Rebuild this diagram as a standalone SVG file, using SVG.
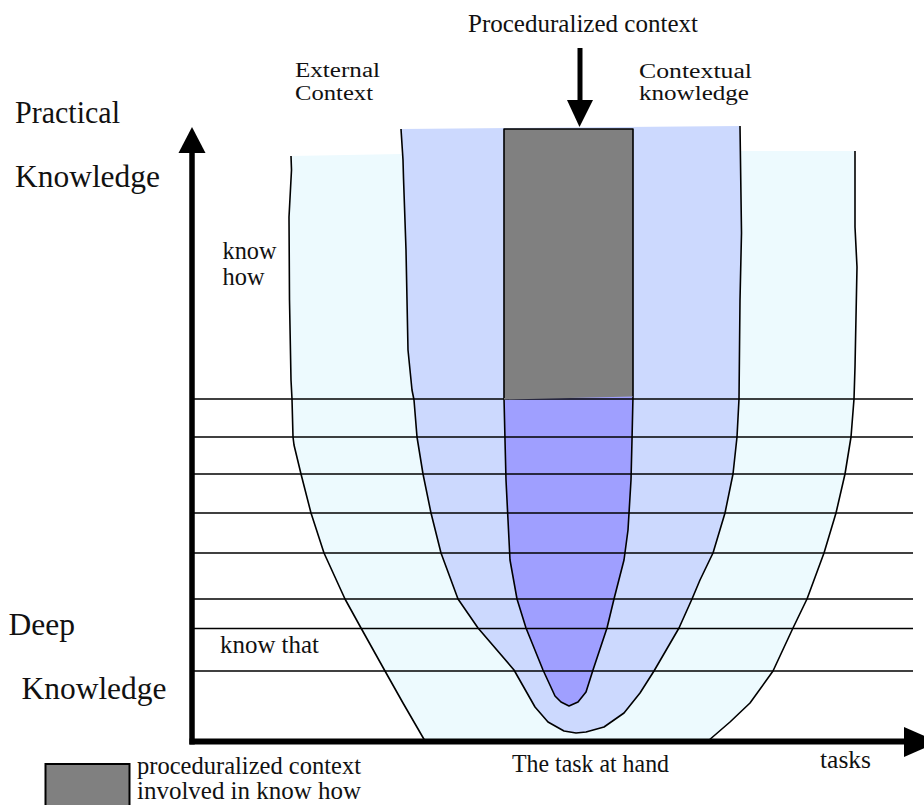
<svg xmlns="http://www.w3.org/2000/svg" width="924" height="805" viewBox="0 0 924 805">
<style>
text{font-family:"Liberation Serif","DejaVu Serif","Times New Roman",serif;fill:#111;}
.big{font-size:31px;}
.med{font-size:25px;}
.sm{font-size:20.5px;}
.edge{fill:none;stroke:#000;stroke-width:1.6;stroke-linejoin:round;}
.hl{stroke:#000;stroke-width:1.6;}
</style>
<rect x="0" y="0" width="924" height="805" fill="#fff"/>
<g id="external-context">
<polygon fill="#EDFAFE" points="291,156 402,154 740,151 855,151 855,227 857,267 855,367 854,399 851,437 845,474 836,513 824,553 807,599 793,628 773,671 750,703 730,722 708,741 425,741 403,703 385,671 361,628 345,599 324,553 311,513 301,474 294,445 293,437 292,399 291,380 289.5,300 289,217 291.5,170"/>
<polyline class="edge" points="291,156 291.5,170 289,217 289.5,300 291,380 292,399 293,437 294,445 301,474 311,513 324,553 345,599 361,628 385,671 403,703 425,741"/>
<polyline class="edge" points="855,151 855,227 857,267 855,367 854,399 851,437 845,474 836,513 824,553 807,599 793,628 773,671 750,703 730,722 708,741"/>
</g>
<g id="contextual-knowledge">
<polygon fill="#CCD9FE" points="401,129 740,126 741.5,233 740,300 739,399 737,437 733,474 725,513 713,553 700,580 692,599 679,628 654,671 640,693 624,713 604,727 586,732 576,733 564,731 548,722 535,707 514,670 478,628 458,599 441,553 431,513 423,474 417,437 414,400 412,390 408,350 406,250 403.5,178 403,160"/>
<polyline class="edge" points="401,129 403,160 403.5,178 406,250 408,350 412,390 414,400 417,437 423,474 431,513 441,553 458,599 478,628 514,670 535,707 548,722 564,731 576,733 586,732 604,727 624,713 640,693 654,671 679,628 692,599 700,580 713,553 725,513 733,474 737,437 739,399 740,300 741.5,233 740,126"/>
</g>
<g id="know-that-core">
<polygon fill="#9F9FFF" points="504,398 633,396 632,440 631,480 628,530 624,560 614,599 607,628 593,670 586,692 578,702 569,706 561,702 555,696 543,670 526,628 517,599 510,560 508,520 506,480 505,440"/>
<polyline class="edge" points="504,398 505,440 506,480 508,520 510,560 517,599 526,628 543,670 555,696 561,702 569,706 578,702 586,692 593,670 607,628 614,599 624,560 628,530 631,480 632,440 633,396"/>
</g>
<g id="levels">
<line class="hl" x1="194" y1="399" x2="913" y2="399"/>
<line class="hl" x1="194" y1="437" x2="913" y2="437"/>
<line class="hl" x1="194" y1="474" x2="913" y2="474"/>
<line class="hl" x1="194" y1="513" x2="913" y2="513"/>
<line class="hl" x1="194" y1="553" x2="913" y2="553"/>
<line class="hl" x1="194" y1="599" x2="913" y2="599"/>
<line class="hl" x1="194" y1="628.5" x2="913" y2="628.5"/>
<line class="hl" x1="194" y1="671" x2="913" y2="671"/>
</g>
<g id="proceduralized-context">
<polygon fill="#808080" points="504,129 633,129 633,396.5 504,399.5"/>
<polyline class="edge" stroke-width="2" points="504,398 504,129 633,129 633,396"/>
</g>
<g id="connectors">
<line x1="580" y1="48" x2="580" y2="101" stroke="#000" stroke-width="5"/>
<polygon points="567,100 593,100 579.5,127" fill="#000"/>
<line x1="192" y1="153" x2="192" y2="744.5" stroke="#000" stroke-width="5.5"/>
<polygon points="178.5,153 205.5,153 192,127" fill="#000"/>
<line x1="189.5" y1="741.5" x2="906" y2="741.5" stroke="#000" stroke-width="6"/>
<polygon points="904,727 904,757 938,742" fill="#000"/>
</g>
<g id="labels" font-family="Liberation Serif, DejaVu Serif, serif">
<text class="med" x="468" y="32" textLength="230" lengthAdjust="spacingAndGlyphs">Proceduralized context</text>
<text class="sm" x="295" y="77" textLength="85" lengthAdjust="spacingAndGlyphs">External</text>
<text class="sm" x="295" y="100" textLength="78" lengthAdjust="spacingAndGlyphs">Context</text>
<text class="sm" x="639" y="77.5" textLength="113" lengthAdjust="spacingAndGlyphs">Contextual</text>
<text class="sm" x="639" y="100" textLength="110" lengthAdjust="spacingAndGlyphs">knowledge</text>
<text class="big" x="15" y="123" textLength="105" lengthAdjust="spacingAndGlyphs">Practical</text>
<text class="big" x="15" y="187" textLength="145" lengthAdjust="spacingAndGlyphs">Knowledge</text>
<text class="med" x="222.5" y="259" font-size="23" textLength="54" lengthAdjust="spacingAndGlyphs">know</text>
<text class="med" x="222.5" y="285" font-size="23" textLength="42" lengthAdjust="spacingAndGlyphs">how</text>
<text class="big" x="8.5" y="635" textLength="66.5" lengthAdjust="spacingAndGlyphs">Deep</text>
<text class="big" x="21.5" y="699" textLength="145" lengthAdjust="spacingAndGlyphs">Knowledge</text>
<text class="med" x="220" y="653" textLength="99" lengthAdjust="spacingAndGlyphs">know that</text>
<text class="med" x="512" y="772" textLength="157" lengthAdjust="spacingAndGlyphs">The task at hand</text>
<text class="med" x="820" y="768" textLength="51" lengthAdjust="spacingAndGlyphs">tasks</text>
</g>
<g id="legend">
<rect x="45.5" y="764" width="84" height="46" fill="#808080" stroke="#000" stroke-width="2"/>
<text class="med" x="137" y="774" font-size="23" textLength="224" lengthAdjust="spacingAndGlyphs">proceduralized context</text>
<text class="med" x="137" y="799" font-size="23" textLength="224" lengthAdjust="spacingAndGlyphs">involved in know how</text>
</g>
</svg>
